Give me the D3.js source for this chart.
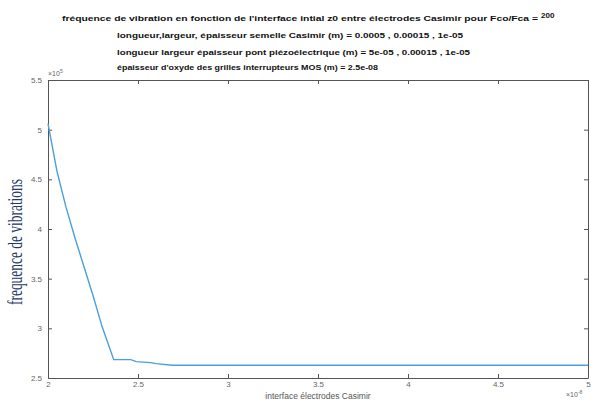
<!DOCTYPE html>
<html>
<head>
<meta charset="utf-8">
<script src="https://cdn.jsdelivr.net/npm/d3@7"></script>
<style>
  body { margin: 0; background: #fff; }
  svg { display: block; }
</style>
</head>
<body>
<div id="chart-area"></div>
<script>
// data (x in 1e-8 m, y in 1e5)
let xValues = [2.00, 2.05, 2.10, 2.15, 2.20, 2.25, 2.30, 2.365, 2.46, 2.49, 2.57, 2.60, 2.69, 5.00];
let yValues = [5.06, 4.58, 4.22, 3.91, 3.62, 3.33, 3.02, 2.685, 2.685, 2.665, 2.655, 2.645, 2.628, 2.628];
let xTicks = [2, 2.5, 3, 3.5, 4, 4.5, 5];
let yTicks = [2.5, 3, 3.5, 4, 4.5, 5, 5.5];
let titleLines = [
	"fréquence de vibration  en fonction de l'interface intial z0  entre électrodes Casimir pour Fco/Fca = ",
	"longueur,largeur, épaisseur semelle Casimir  (m) =  0.0005 , 0.00015 , 1e-05",
	"longueur largeur épaisseur pont piézoélectrique  (m) = 5e-05 , 0.00015 , 1e-05",
	"épaisseur d'oxyde des grilles interrupteurs MOS  (m) = 2.5e-08"
];
let titleRatio = "200";

let margin = { left: 48, right: 3, top: 80, bottom: 22 };
let width = 591 - margin.left - margin.right,
	height = 400 - margin.top - margin.bottom;

let svg = d3.select("#chart-area")
	.append("svg")
	.attr("width", 591)
	.attr("height", 400);

let g = svg.append("g")
	.attr("transform", "translate(" + margin.left + "," + margin.top + ")");

// Scales
let x = d3.scaleLinear().domain([2, 5]).range([0, width]);
let y = d3.scaleLinear().domain([2.5, 5.5]).range([height, 0]);

let axisColor = "#555";
let tickColor = "#666";

// Axes (MATLAB style: ticks inside, box all round)
let xAxis = g.append("g")
	.attr("transform", "translate(0," + height + ")")
	.call(d3.axisBottom(x).tickValues(xTicks).tickSizeInner(-4).tickSizeOuter(0).tickPadding(3).tickFormat(d3.format("")));
let yAxis = g.append("g")
	.call(d3.axisLeft(y).tickValues(yTicks).tickSizeInner(-4).tickSizeOuter(0).tickPadding(6).tickFormat(d3.format("")));
let xTop = g.append("g")
	.call(d3.axisTop(x).tickValues(xTicks).tickSizeInner(-4).tickSizeOuter(0).tickFormat(""));
let yRight = g.append("g")
	.attr("transform", "translate(" + width + ",0)")
	.call(d3.axisRight(y).tickValues(yTicks).tickSizeInner(-4).tickSizeOuter(0).tickFormat(""));

[xAxis, yAxis, xTop, yRight].forEach((a) => {
	a.select(".domain").attr("stroke", axisColor).attr("stroke-width", 1);
	a.selectAll(".tick line").attr("stroke", axisColor);
	a.selectAll(".tick text")
		.attr("fill", tickColor)
		.attr("font-family", "Liberation Sans, Arial, sans-serif")
		.attr("font-size", "8px");
});

// exponent labels
g.append("text")
	.attr("x", 0)
	.attr("y", -4)
	.attr("fill", tickColor)
	.attr("font-family", "Liberation Sans, Arial, sans-serif")
	.attr("font-size", "7px")
	.html("×10<tspan dy='-3' font-size='5px'>5</tspan>");
g.append("text")
	.attr("x", width - 22)
	.attr("y", height + 19)
	.attr("fill", tickColor)
	.attr("font-family", "Liberation Sans, Arial, sans-serif")
	.attr("font-size", "7px")
	.html("×10<tspan dy='-3' font-size='5px'>-8</tspan>");

// Line
let line = d3.line()
	.x((d, i) => x(xValues[i]))
	.y((d) => y(d));
g.append("path")
	.datum(yValues)
	.attr("fill", "none")
	.attr("stroke", "#4a9fdc")
	.attr("stroke-width", 1.4)
	.attr("d", line);

// Labels
svg.append("text")
	.attr("x", 318)
	.attr("y", 399)
	.attr("text-anchor", "middle")
	.attr("fill", "#555")
	.attr("font-family", "Liberation Sans, Arial, sans-serif")
	.attr("font-size", "8.5px")
	.text("interface électrodes Casimir");

svg.append("text")
	.attr("transform", "translate(22,242) rotate(-90)")
	.attr("text-anchor", "middle")
	.attr("fill", "#1f3a6b")
	.attr("font-family", "Liberation Serif, serif")
	.attr("font-size", "21px")
	.attr("textLength", 126)
	.attr("lengthAdjust", "spacingAndGlyphs")
	.text("frequence de vibrations");

// Title block
let titleX = [62, 117, 117, 117];
let titleY = [21, 38, 55, 70];
let titleW = [476, 346, 353, 261];
titleLines.forEach((t, i) => {
	svg.append("text")
		.attr("x", titleX[i])
		.attr("y", titleY[i])
		.attr("fill", "#111")
		.attr("font-family", "Liberation Sans, Arial, sans-serif")
		.attr("font-weight", "bold")
		.attr("font-size", "8px")
		.attr("textLength", titleW[i])
		.attr("lengthAdjust", "spacingAndGlyphs")
		.text(t);
});
svg.append("text")
	.attr("x", 541)
	.attr("y", 18)
	.attr("fill", "#111")
	.attr("font-family", "Liberation Sans, Arial, sans-serif")
	.attr("font-weight", "bold")
	.attr("font-size", "8px")
	.text(titleRatio);
</script>
</body>
</html>
